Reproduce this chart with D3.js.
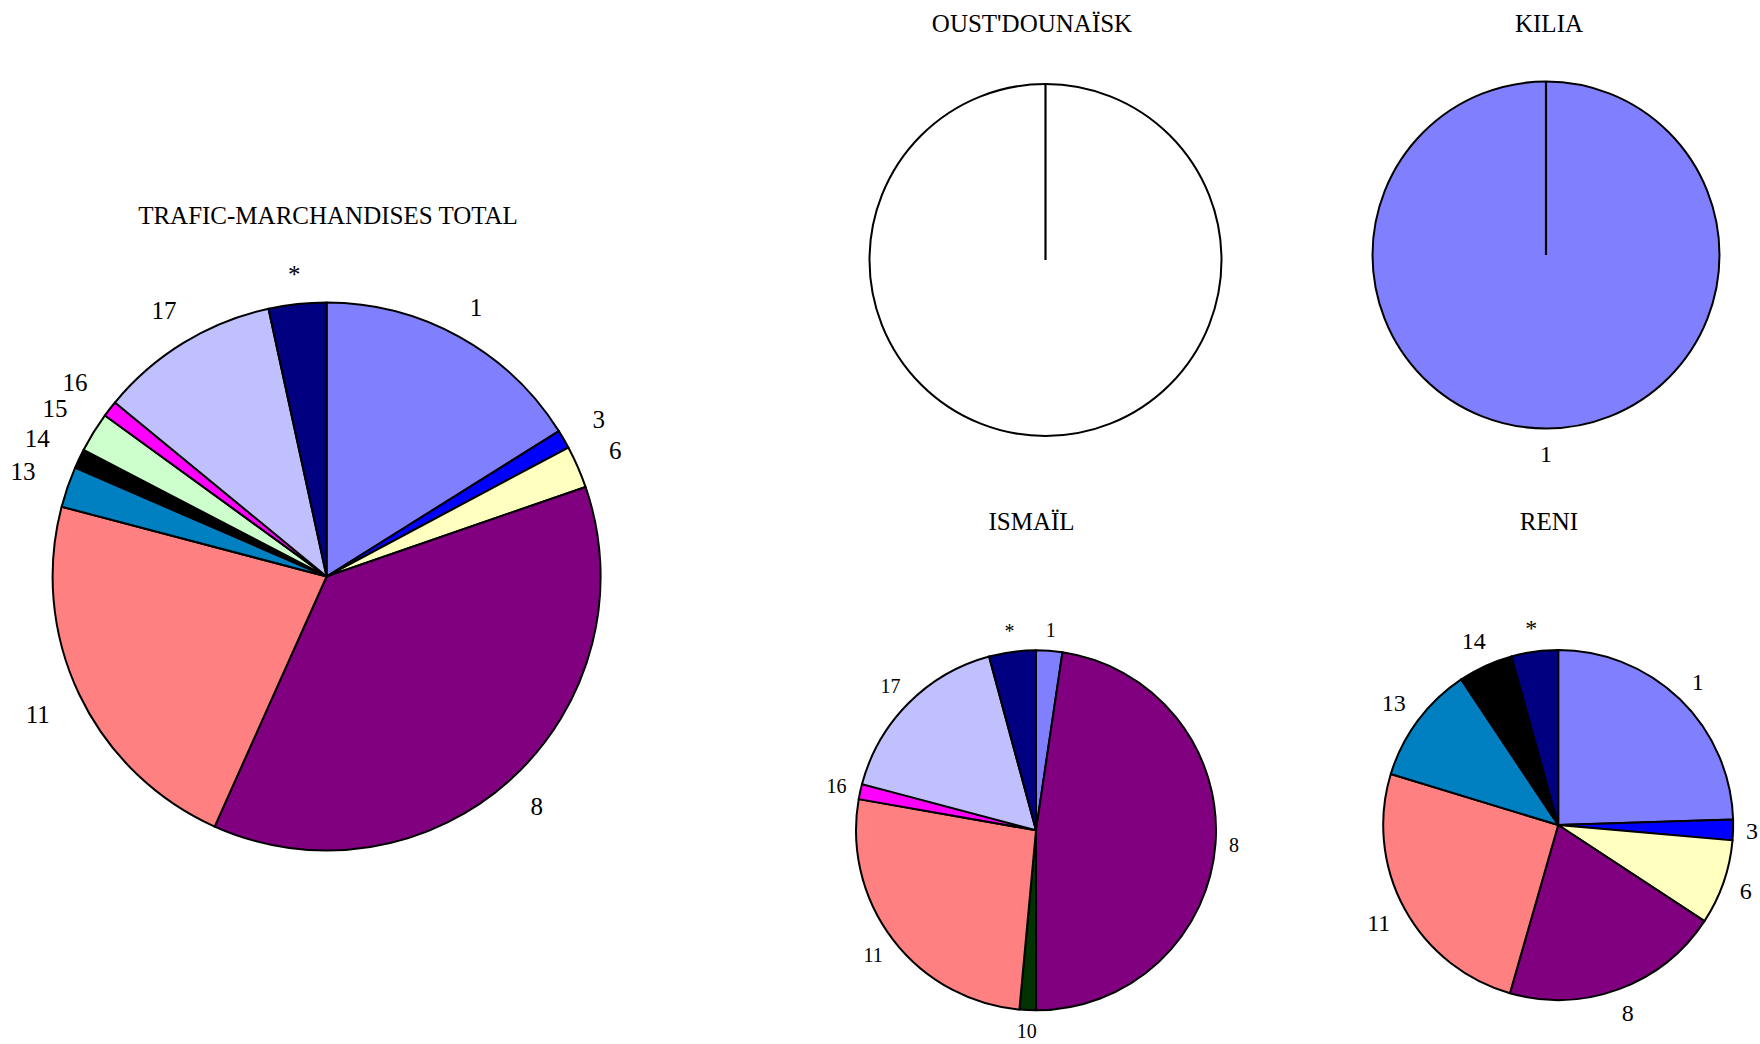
<!DOCTYPE html>
<html><head><meta charset="utf-8">
<script src="https://cdn.jsdelivr.net/npm/d3@7"></script>
<style>
body{margin:0;background:#fff}
svg{display:block}
text{font-family:"Liberation Serif","Times New Roman",Times,serif;fill:#000}
</style>
</head><body>
<svg id="chart" width="1760" height="1044"></svg>
<script>
// ---- data (percent shares) ----
const totalCategories  = ["1","3","6","8","11","13","14","15","16","17","*"];
const totalValues      = [16.1,1.1,2.5,37.0,22.4,2.4,1.15,2.35,0.95,10.65,3.4];
const oustCategories   = [""];
const oustValues       = [100];
const kiliaCategories  = ["1"];
const kiliaValues      = [100];
const ismailCategories = ["1","8","10","11","16","17","*"];
const ismailValues     = [2.35,47.65,1.47,26.3,1.36,16.67,4.2];
const reniCategories   = ["1","3","6","8","11","13","14","*"];
const reniValues       = [24.5,1.9,7.85,20.2,25.25,10.95,5.05,4.3];
const panelTitles      = ["TRAFIC-MARCHANDISES TOTAL","OUST'DOUNAÏSK","KILIA","ISMAÏL","RENI"];

// ---- styles ----
const colorScale = d3.scaleOrdinal()
  .domain(["1","3","6","8","10","11","13","14","15","16","17","*",""])
  .range(["#8080FF","#0000FF","#FFFFC0","#800080","#003300","#FF8080","#0080C0","#000000","#CCFFCC","#FF00FF","#C0C0FF","#000080","#FFFFFF"]);

const W = 1760, H = 1044;
const svg = d3.select("#chart");

const panels = [
  {title:panelTitles[0], cats:totalCategories,  vals:totalValues,  cx:326.6, cy:576.5, r:274,  tx:328,    ty:224, fs:25, gap:20, side:14},
  {title:panelTitles[1], cats:oustCategories,   vals:oustValues,   cx:1045.5,cy:260,   r:176,  tx:1032,   ty:32,  fs:24, gap:15, side:0},
  {title:panelTitles[2], cats:kiliaCategories,  vals:kiliaValues,  cx:1546,  cy:255,   r:173.5,tx:1549,   ty:32,  fs:24, gap:16, side:0},
  {title:panelTitles[3], cats:ismailCategories, vals:ismailValues, cx:1036,  cy:830.3, r:180,  tx:1031.5, ty:530, fs:20, gap:13, side:0},
  {title:panelTitles[4], cats:reniCategories,   vals:reniValues,   cx:1558.2,cy:825,   r:175,  tx:1549,   ty:530, fs:24, gap:15, side:0}
];

const pie = d3.pie().sort(null).value(d => d.v).startAngle(0).endAngle(2*Math.PI);

panels.forEach(p => {
  const data = p.cats.map((c,i) => ({c, v:p.vals[i]}));
  const arcs = pie(data);
  const arc = d3.arc().innerRadius(0).outerRadius(p.r);

  svg.append("text")
    .attr("x", p.tx).attr("y", p.ty)
    .attr("text-anchor","middle")
    .attr("font-size", 25)
    .text(p.title);

  const g = svg.append("g").attr("transform", `translate(${p.cx},${p.cy})`);
  g.selectAll("path.slice").data(arcs).enter().append("path")
    .attr("class","slice")
    .attr("d", arc)
    .attr("fill", d => colorScale(d.data.c))
    .attr("stroke","#000")
    .attr("stroke-width",2)
    .attr("stroke-linejoin","round");

  if (arcs.length === 1) {
    const a = arcs[0].startAngle;
    g.append("line")
      .attr("x1",0).attr("y1",0)
      .attr("x2", p.r*Math.sin(a)).attr("y2", -p.r*Math.cos(a))
      .attr("stroke","#000").attr("stroke-width",2.2);
  }

  // labels outside the pie
  arcs.forEach(d => {
    if (!d.data.c) return;
    const a = (d.startAngle + d.endAngle)/2;
    const t = g.append("text")
      .attr("font-size", p.fs)
      .attr("text-anchor","middle")
      .attr("dy","0.35em")
      .text(d.data.c);
    const w = t.node().getComputedTextLength();
    const h = p.fs*0.72;
    const s = Math.sin(a), c = Math.cos(a);
    const dist = p.r + p.gap + p.side*s*s + Math.abs(s)*w/2 + Math.abs(c)*h/2;
    let x = dist*s, y = -dist*c;
    const maxX = W - w/2 - 2 - p.cx;
    if (x > maxX) x = maxX;
    t.attr("x", x).attr("y", y);
  });
});
</script>
</body></html>
